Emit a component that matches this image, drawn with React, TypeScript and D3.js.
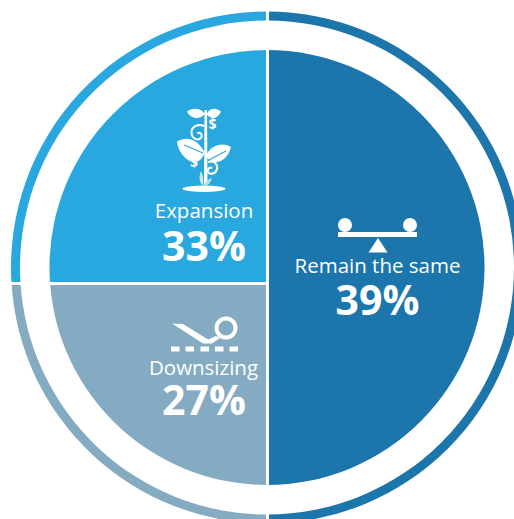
import React from "react";
import * as d3 from "d3";

const labels = ["Remain the same", "Expansion", "Downsizing"];
const values = [39, 33, 27];
const colors = ["#1c75ab", "#29a7df", "#84abc1"];

const width = 514;
const height = 519;
const cx = 267;
const cy = 267.5;
const pieR = 217.5;
const ringOuter = 256;
const ringInner = 247;

// the left half is cut by a horizontal chord, sized by the share of the two left values
const leftShare = d3.scaleLinear().domain([0, values[1] + values[2]]).range([0, 1]);
const splitY = cy + (leftShare(values[1]) - 0.5) * (Math.PI / 2) * pieR - 1;
const ringCut = Math.asin((splitY - cy) / ((ringOuter + ringInner) / 2));

const ringArc = d3.arc().innerRadius(ringInner).outerRadius(ringOuter);
const halfDisc = d3.arc().innerRadius(0).outerRadius(pieR);

const font = "'Open Sans', sans-serif";
const TAU = Math.PI * 2;

function Balance() {
  return (
    <g fill="#fff">
      <rect x={338} y={232} width={79} height={5} />
      <circle cx={345} cy={225} r={7} />
      <circle cx={410} cy={225} r={7} />
      <path d="M378 238L387.5 252.5H368.5Z" />
    </g>
  );
}

function Cutter() {
  return (
    <g fill="#fff">
      <path d="M172 323.5L183 324L208 339.5L216 336L220 338L212 343.5H203Z" />
      <circle cx={226} cy={328} r={9.5} fill="none" stroke="#fff" strokeWidth={4} />
      {[171, 185.5, 200.5, 215, 229.5].map((x) => (
        <rect key={x} x={x} y={346.5} width={8.5} height={5} />
      ))}
    </g>
  );
}

function Plant() {
  const blue = colors[1];
  return (
    <g>
      <ellipse cx={204} cy={188.8} rx={21.5} ry={3.2} fill="#fff" />
      <path d="M204.5 110L204 185H207.5L207 110Z" fill="#fff" />
      {/* top leaves */}
      <path d="M205 114C201 108 193 107 187 111.500C190 118 199 121 205 114Z" fill="#fff" />
      <path d="M206.500 114C210 108 215 107 221 111.500C218 118 212 121 206.500 114Z" fill="#fff" />
      {/* big leaves */}
      <path d="M204.500 152C198 140 188 135 177 141.500C178 152 187 163 196 162C200 161 203 158 204.500 152Z" fill="#fff" />
      <path d="M206 155C212 145 222 142 231 147C229 156 222 163 214 162C210 161 207 159 206 155Z" fill="#fff" />
      <path d="M184 145L203 153M209 160L226 151" stroke={blue} strokeWidth={1.1} fill="none" />
      {/* curls */}
      <path d="M204 126C198 123 191 127 191.500 133C192 139 198 141 201 138C203 135 200 131 197.500 133.500" fill="none" stroke="#fff" strokeWidth={2} />
      <path d="M208 162C214 160 218 164 217 169C216 174 210 175 208 172C207 169 210 166 212 168.500" fill="none" stroke="#fff" strokeWidth={2} />
      {/* small leaves at the foot */}
      <path d="M201 171C198 178 200 183 203 186C204 180 203 175 201 171Z" fill="#cfe9e6" />
      <path d="M212 178C208 179 205 182 204 186C208 186 211 182 212 178Z" fill="#b7e0d8" />
      <text x={212.500} y={129} textAnchor="middle" fontFamily={font} fontWeight={700} fontSize={14} fill="#fff">$</text>
      <text x={194} y={167} textAnchor="middle" fontFamily={font} fontWeight={700} fontSize={14} fill="#fff">$</text>
    </g>
  );
}

function Label({ x, y, size, bold, text }: { x: number; y: number; size: number; bold?: boolean; text: string }) {
  return (
    <text x={x} y={y} textAnchor="middle" fontFamily={font} fontSize={size} fontWeight={bold ? 700 : 400} fill="#fff">
      {text}
    </text>
  );
}

export default function App() {
  return (
    <svg width={width} height={height} style={{ position: "fixed", left: 0, top: 0, background: "#fff" }}>
      <defs>
        <clipPath id="upperLeft">
          <rect x={0} y={0} width={cx} height={splitY} />
        </clipPath>
        <clipPath id="lowerLeft">
          <rect x={0} y={splitY} width={cx} height={height - splitY} />
        </clipPath>
      </defs>
      <g transform={`translate(${cx},${cy})`}>
        <path d={ringArc({ startAngle: 0, endAngle: TAU / 2 } as any) as string} fill={colors[0]} />
        <path d={ringArc({ startAngle: -Math.PI / 2 - ringCut, endAngle: 0 } as any) as string} fill={colors[1]} />
        <path d={ringArc({ startAngle: -Math.PI, endAngle: -Math.PI / 2 - ringCut } as any) as string} fill={colors[2]} />
        <path d={halfDisc({ startAngle: 0, endAngle: TAU / 2 } as any) as string} fill={colors[0]} />
      </g>
      <circle cx={cx} cy={cy} r={pieR} fill={colors[1]} clipPath="url(#upperLeft)" />
      <circle cx={cx} cy={cy} r={pieR} fill={colors[2]} clipPath="url(#lowerLeft)" />
      <line x1={cx + 0.5} x2={cx + 0.5} y1={0} y2={height} stroke="#fff" strokeWidth={3} />
      <line x1={0} x2={cx} y1={splitY} y2={splitY} stroke="#fff" strokeWidth={3} />

      <Balance />
      <Cutter />
      <Plant />

      <Label x={377.500} y={273} size={20.500} text={labels[0]} />
      <Label x={377.500} y={315} size={41} bold text={`${values[0]}%`} />
      <Label x={204} y={217.500} size={20.500} text={labels[1]} />
      <Label x={204} y={261} size={41} bold text={`${values[1]}%`} />
      <Label x={203.500} y={375} size={20.500} text={labels[2]} />
      <Label x={204} y={415} size={41} bold text={`${values[2]}%`} />
    </svg>
  );
}
